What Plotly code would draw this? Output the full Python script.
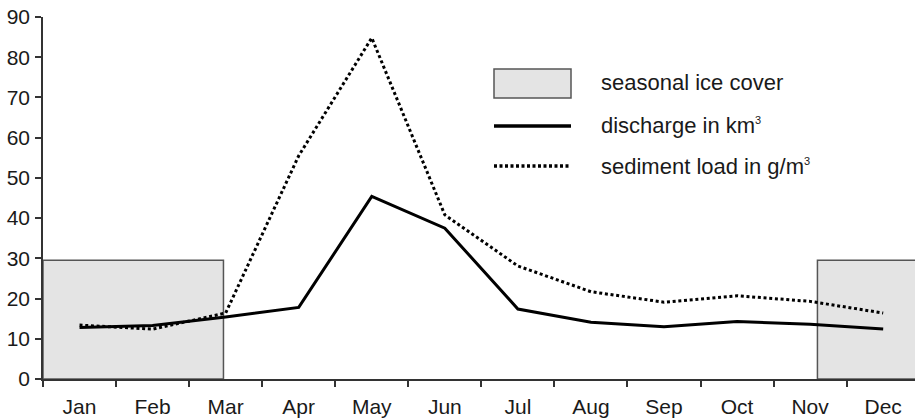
import plotly.graph_objects as go

# Monthly values
months = ["Jan", "Feb", "Mar", "Apr", "May", "Jun",
          "Jul", "Aug", "Sep", "Oct", "Nov", "Dec"]
discharge_km3 = [12.8, 13.3, 15.4, 17.8, 45.4, 37.5,
                 17.4, 14.1, 13.0, 14.3, 13.6, 12.4]
sediment_g_m3 = [13.4, 12.4, 16.4, 55.5, 84.8, 40.8,
                 28.1, 21.7, 19.1, 20.7, 19.3, 16.4]

# Ice-cover periods on the month axis (index units) and their bar height
ice_start = [-0.5, 10.1]
ice_end = [1.97, 11.6]
ice_level = 29.5

y_ticks = [0, 10, 20, 30, 40, 50, 60, 70, 80, 90]

W, H = 915, 418
ML, MR, MT, MB = 43, 0, 17, 39
PW, PH = W - ML - MR, H - MT - MB

FONT = "Liberation Sans, Arial, Helvetica, sans-serif"
TXT = "#1a1a1a"


def px_x(px):
    return (px - ML) / PW


def px_y(py):
    return (H - MB - py) / PH


fig = go.Figure()

fig.add_trace(go.Scatter(
    x=months, y=sediment_g_m3, mode="lines",
    line=dict(color="#000000", width=3, dash="3px,2.7px"),
    showlegend=False, hoverinfo="skip",
))
fig.add_trace(go.Scatter(
    x=months, y=discharge_km3, mode="lines",
    line=dict(color="#000000", width=3),
    showlegend=False, hoverinfo="skip",
))

shapes = []
for x0, x1 in zip(ice_start, ice_end):
    shapes.append(dict(
        type="rect", xref="x", yref="y", x0=x0, x1=x1, y0=0, y1=ice_level,
        fillcolor="#e4e4e4", line=dict(color="#555555", width=1.5),
        layer="below",
    ))

# Legend keys
shapes.append(dict(
    type="rect", xref="paper", yref="paper",
    x0=px_x(494), x1=px_x(571), y0=px_y(98), y1=px_y(69),
    fillcolor="#e4e4e4", line=dict(color="#555555", width=1.5),
))
shapes.append(dict(
    type="line", xref="paper", yref="paper",
    x0=px_x(494), x1=px_x(571), y0=px_y(126), y1=px_y(126),
    line=dict(color="#000000", width=3.5),
))
shapes.append(dict(
    type="line", xref="paper", yref="paper",
    x0=px_x(494), x1=px_x(571), y0=px_y(166), y1=px_y(166),
    line=dict(color="#000000", width=3.5, dash="3px,2.5px"),
))

SUP3 = "<sup><span style='font-size:11px'>3</span></sup>"
legend_labels = ["seasonal ice cover", "discharge in km" + SUP3,
                 "sediment load in g/m" + SUP3]
legend_rows = [83, 126, 166]
annotations = [
    dict(text=t, xref="paper", yref="paper", x=px_x(599), y=px_y(r),
         xanchor="left", yanchor="middle", showarrow=False,
         font=dict(family=FONT, size=22, color=TXT))
    for t, r in zip(legend_labels, legend_rows)
]

fig.update_layout(
    width=W, height=H,
    margin=dict(l=ML, r=MR, t=MT, b=MB, pad=0, autoexpand=False),
    paper_bgcolor="white", plot_bgcolor="white",
    font=dict(family=FONT, size=21, color=TXT),
    shapes=shapes, annotations=annotations,
    xaxis=dict(
        type="category", categoryorder="array", categoryarray=months,
        range=[-0.5, -0.5 + PW / 73.06],
        tickson="boundaries", ticks="outside", ticklen=6, tickwidth=1.5,
        tickcolor="#333333", showline=True, linecolor="#333333",
        linewidth=1.5, showgrid=False, zeroline=False, automargin=False,
        tickfont=dict(family=FONT, size=21, color=TXT),
        ticklabelstandoff=8,
    ),
    yaxis=dict(
        range=[0, 90], tickvals=y_ticks, ticks="outside", ticklen=6,
        tickwidth=1.5, tickcolor="#333333", showline=True,
        linecolor="#333333", linewidth=1.5, showgrid=False,
        zeroline=False, automargin=False,
        tickfont=dict(family=FONT, size=21, color=TXT),
        ticklabelstandoff=1,
    ),
)

fig.write_html("out.html")
